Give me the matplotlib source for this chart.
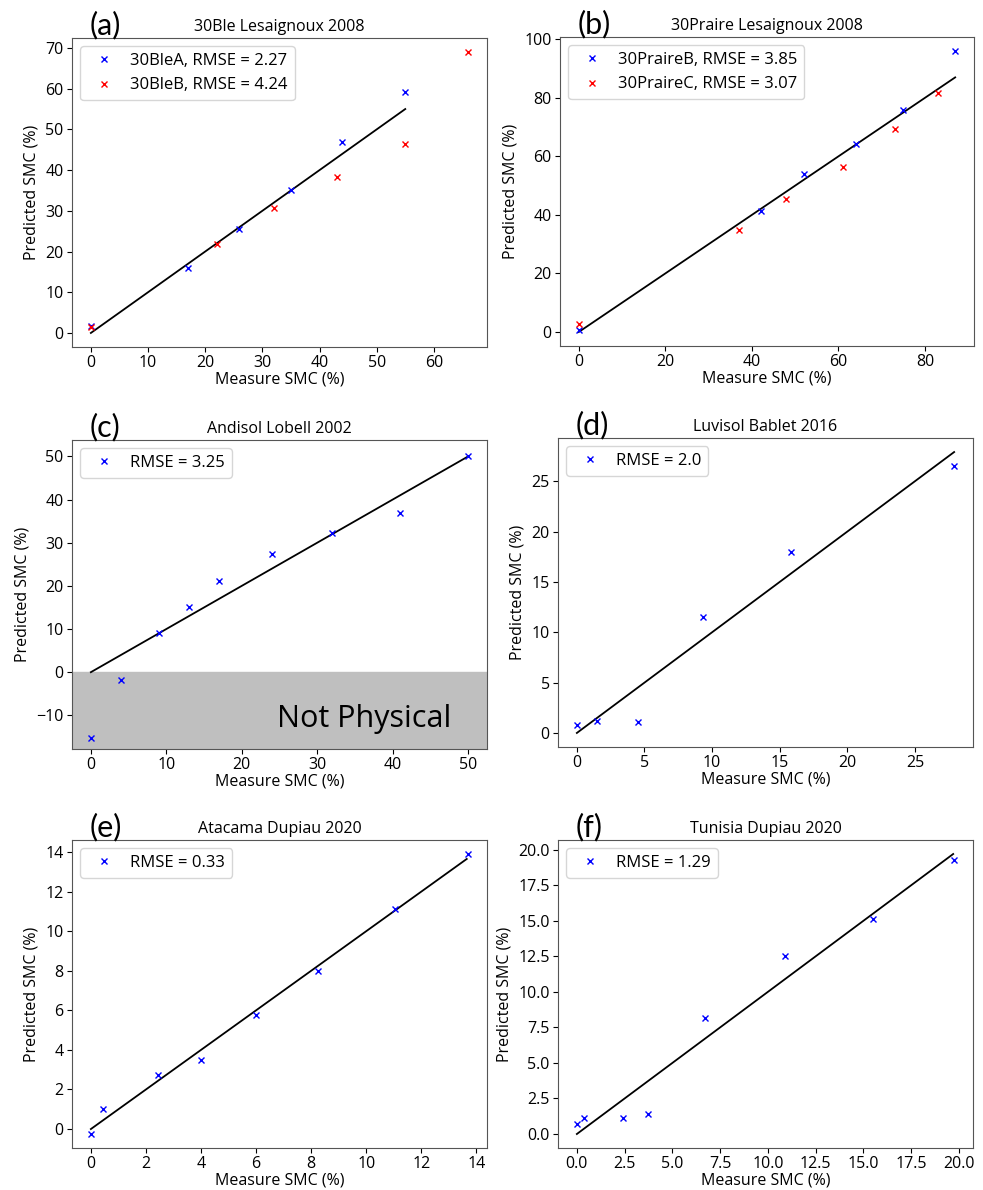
import numpy as np
import matplotlib
matplotlib.use("Agg")
import matplotlib.pyplot as plt
from matplotlib.ticker import MultipleLocator

plt.rcParams["font.family"] = ["Open Sans", "DejaVu Sans"]
plt.rcParams["font.size"] = 11

# (a) 30Ble Lesaignoux 2008
bleA_x = [0, 17, 26, 35, 44, 55]
bleA_y = [1.8, 16.0, 25.6, 35.0, 47.0, 59.2]
bleB_x = [0, 22, 32, 43, 55, 66]
bleB_y = [1.4, 21.8, 30.7, 38.2, 46.5, 69.0]

# (b) 30Praire Lesaignoux 2008
praB_x = [0, 42, 52, 64, 75, 87]
praB_y = [0.8, 41.4, 54.0, 64.3, 75.8, 96.0]
praC_x = [0, 37, 48, 61, 73, 83]
praC_y = [2.8, 34.7, 45.6, 56.3, 69.5, 81.8]

# (c) Andisol Lobell 2002
and_x = [0, 4, 9, 13, 17, 24, 32, 41, 50]
and_y = [-15.3, -1.8, 9.0, 15.0, 21.1, 27.5, 32.2, 36.9, 50.2]

# (d) Luvisol Bablet 2016
luv_x = [0, 1.5, 4.5, 9.3, 15.8, 27.9]
luv_y = [0.8, 1.15, 1.1, 11.5, 18.0, 26.5]

# (e) Atacama Dupiau 2020
ata_x = [0, 0.45, 2.45, 4.0, 6.0, 8.25, 11.05, 13.7]
ata_y = [-0.25, 1.0, 2.75, 3.5, 5.75, 8.0, 11.1, 13.9]

# (f) Tunisia Dupiau 2020
tun_x = [0, 0.35, 2.4, 3.75, 6.7, 10.9, 15.5, 19.75]
tun_y = [0.7, 1.1, 1.1, 1.4, 8.15, 12.5, 15.1, 19.25]

fig = plt.figure(figsize=(9.83, 11.9), dpi=100)
W, H = 983.0, 1190.0


def make_axes(left, top, right, bottom):
    return fig.add_axes([left / W, 1 - bottom / H, (right - left) / W, (bottom - top) / H])


def style(ax, letter, title, line_end):
    ax.plot([0, line_end], [0, line_end], color="black", lw=1.3, zorder=1)
    ax.set_title(title, fontsize=11.5, pad=5)
    ax.set_xlabel("Measure SMC (%)", fontsize=11.5, labelpad=0)
    ax.set_ylabel("Predicted SMC (%)", fontsize=11.5)
    ax.tick_params(labelsize=11.5, pad=2.5)
    for s in ax.spines.values():
        s.set_color("#555555")
    ax.text(0.043, 1.012, letter, transform=ax.transAxes, fontsize=22,
            ha="left", va="baseline", family=["Lato", "DejaVu Sans"])
    ax.legend(loc="upper left", fontsize=12, handletextpad=0.6)


mk = dict(marker="x", ls="none", ms=5, mew=1.0)

ax = make_axes(72, 38, 487, 347)
ax.plot(bleA_x, bleA_y, color="blue", label="30BleA, RMSE = 2.27", **mk)
ax.plot(bleB_x, bleB_y, color="red", label="30BleB, RMSE = 4.24", **mk)
style(ax, "(a)", "30Ble Lesaignoux 2008", 55)
ax.set_xlim(-3.3, 69.3)
ax.set_ylim(-3.45, 72.45)

ax = make_axes(560, 37, 974, 346)
ax.plot(praB_x, praB_y, color="blue", label="30PraireB, RMSE = 3.85", **mk)
ax.plot(praC_x, praC_y, color="red", label="30PraireC, RMSE = 3.07", **mk)
style(ax, "(b)", "30Praire Lesaignoux 2008", 87)

ax = make_axes(72, 440, 487, 749)
ax.axhspan(-100, 0, color="#bfbfbf", zorder=0)
ax.plot(and_x, and_y, color="blue", label="RMSE = 3.25", **mk)
style(ax, "(c)", "Andisol Lobell 2002", 50)
ax.set_xlim(-2.5, 52.5)
ax.set_ylim(-17.8, 53.8)
ax.text(0.915, 0.05, "Not Physical", transform=ax.transAxes, fontsize=22,
        ha="right", va="bottom")

ax = make_axes(558, 438, 973, 747)
ax.plot(luv_x, luv_y, color="blue", label="RMSE = 2.0", **mk)
style(ax, "(d)", "Luvisol Bablet 2016", 27.9)

ax = make_axes(72, 840, 487, 1148)
ax.plot(ata_x, ata_y, color="blue", label="RMSE = 0.33", **mk)
style(ax, "(e)", "Atacama Dupiau 2020", 13.65)

ax = make_axes(558, 840, 973, 1148)
ax.plot(tun_x, tun_y, color="blue", label="RMSE = 1.29", **mk)
style(ax, "(f)", "Tunisia Dupiau 2020", 19.7)
ax.xaxis.set_major_locator(MultipleLocator(2.5))
ax.yaxis.set_major_locator(MultipleLocator(2.5))

fig.savefig("out.png", dpi=100)
